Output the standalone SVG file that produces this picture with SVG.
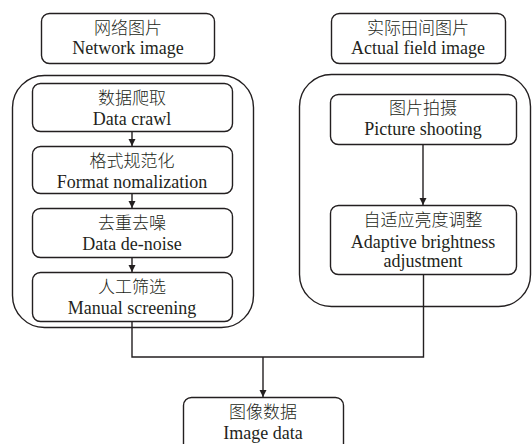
<svg xmlns="http://www.w3.org/2000/svg" width="532" height="444" viewBox="0 0 532 444">
<style>
.box{fill:#fff;stroke:#231f20;stroke-width:1.4}
.cont{fill:none;stroke:#231f20;stroke-width:1.4}
text{font-family:"Liberation Serif","Noto Sans CJK SC",serif;font-size:18px;fill:#231f20;text-anchor:middle}
.cn{font-size:17px;font-weight:300}
.edge{fill:none;stroke:#231f20;stroke-width:1.4}
</style>
<defs>
<marker id="arr" viewBox="0 0 10 10" refX="10" refY="5" markerWidth="7" markerHeight="10" markerUnits="userSpaceOnUse" orient="auto">
<path d="M0,0 L10,5 L0,10 Z" fill="#231f20"/>
</marker>
</defs>
<rect width="532" height="444" fill="#fff"/>
<g id="container-left"><rect class="cont" x="12.5" y="75.5" width="241" height="252" rx="32"/></g>
<g id="container-right"><rect class="cont" x="299.5" y="74.5" width="231" height="232" rx="32"/></g>
<g id="connectors">
<path class="edge" d="M132,131 V146" marker-end="url(#arr)"/>
<path class="edge" d="M132,193 V208" marker-end="url(#arr)"/>
<path class="edge" d="M132,257 V272" marker-end="url(#arr)"/>
<path class="edge" d="M423,144 V205" marker-end="url(#arr)"/>
<path class="edge" d="M132,321 V357 H423.5 V274"/>
<path class="edge" d="M263,357 V397" marker-end="url(#arr)"/>
</g>
<g id="network-image"><rect class="box" x="41.5" y="13.5" width="173" height="50" rx="8"/><text class="cn" x="128" y="34">网络图片</text><text x="128" y="54">Network image</text></g>
<g id="actual-field-image"><rect class="box" x="331.5" y="13.5" width="174" height="50" rx="8"/><text class="cn" x="418" y="34">实际田间图片</text><text x="418" y="54">Actual field image</text></g>
<g id="data-crawl"><rect class="box" x="32.5" y="83.5" width="200" height="48" rx="8"/><text class="cn" x="132" y="104">数据爬取</text><text x="132" y="125">Data crawl</text></g>
<g id="format"><rect class="box" x="32.5" y="146.5" width="200" height="47" rx="8"/><text class="cn" x="132" y="167">格式规范化</text><text x="132" y="188">Format nomalization</text></g>
<g id="denoise"><rect class="box" x="32.5" y="208.5" width="200" height="49" rx="8"/><text class="cn" x="132" y="229">去重去噪</text><text x="132" y="250">Data de-noise</text></g>
<g id="manual"><rect class="box" x="32.5" y="272.5" width="200" height="49" rx="8"/><text class="cn" x="132" y="293">人工筛选</text><text x="132" y="314">Manual screening</text></g>
<g id="picture-shooting"><rect class="box" x="330.5" y="94.5" width="186" height="50" rx="8"/><text class="cn" x="423" y="114">图片拍摄</text><text x="423" y="135">Picture shooting</text></g>
<g id="adaptive"><rect class="box" x="330.5" y="205.5" width="186" height="69" rx="8"/><text class="cn" x="423" y="226">自适应亮度调整</text><text x="423" y="248">Adaptive brightness</text><text x="423" y="267">adjustment</text></g>
<g id="image-data"><rect class="box" x="183.5" y="397.5" width="160" height="56" rx="8"/><text class="cn" x="263" y="418">图像数据</text><text x="263" y="439">Image data</text></g>
</svg>
